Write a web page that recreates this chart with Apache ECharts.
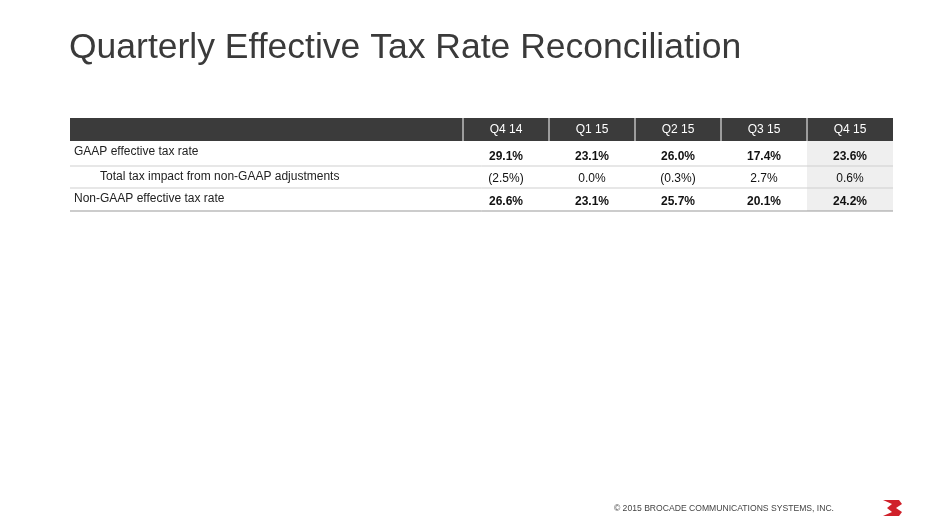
<!DOCTYPE html>
<html><head><meta charset="utf-8">
<script src="https://cdn.jsdelivr.net/npm/echarts@6/dist/echarts.min.js"></script>
<style>html,body{margin:0;padding:0;background:#fff}#c{width:940px;height:528px}</style>
</head><body><div id="c"></div>
<script>
const quarters = ['Q4 14', 'Q1 15', 'Q2 15', 'Q3 15', 'Q4 15'];
const rowLabels = ['GAAP effective tax rate', 'Total tax impact from non-GAAP adjustments', 'Non-GAAP effective tax rate'];
const gaapRate = ['29.1%', '23.1%', '26.0%', '17.4%', '23.6%'];
const adjustments = ['(2.5%)', '0.0%', '(0.3%)', '2.7%', '0.6%'];
const nonGaapRate = ['26.6%', '23.1%', '25.7%', '20.1%', '24.2%'];
const rows = [gaapRate, adjustments, nonGaapRate];
const rowBold = [true, false, true];
const rowIndent = [0, 1, 0];

const font = '"Liberation Sans", Arial, sans-serif';
const left = 70, right = 893, labelW = 393;
const colW = (right - left - labelW) / quarters.length;
const headTop = 118, headH = 23;
const rowTops = [141, 166, 188], rowHs = [25, 22, 23];

const g = [];
g.push({ type: 'text', left: 69, top: 30, style: { text: 'Quarterly Effective Tax Rate Reconciliation', font: '35.5px ' + font, fill: '#3a3a3a' } });
g.push({ type: 'rect', shape: { x: left, y: headTop, width: right - left, height: headH }, style: { fill: '#3b3b3b' } });
// shaded last column
g.push({ type: 'rect', shape: { x: right - colW, y: rowTops[0], width: colW, height: 70 }, style: { fill: '#efefef' } });
quarters.forEach((q, i) => {
  const x = left + labelW + i * colW;
  g.push({ type: 'line', shape: { x1: x, y1: headTop, x2: x, y2: headTop + headH }, style: { stroke: '#ffffff', lineWidth: 1 } });
  g.push({ type: 'text', x: x + colW / 2, y: headTop + headH / 2, style: { text: q, font: '12px ' + font, fill: '#ffffff', align: 'center', verticalAlign: 'middle' } });
});
rows.forEach((vals, r) => {
  const top = rowTops[r], h = rowHs[r];
  g.push({ type: 'text', x: left + 4 + rowIndent[r] * 26, y: top + 5, style: { text: rowLabels[r], font: '12px ' + font, fill: '#222', verticalAlign: 'top' } });
  vals.forEach((v, i) => {
    const x = left + labelW + i * colW;
    g.push({ type: 'text', x: x + colW / 2, y: top + h - 3, style: { text: v, font: (rowBold[r] ? 'bold ' : '') + '12px ' + font, fill: '#111', align: 'center', verticalAlign: 'bottom' } });
  });
  g.push({ type: 'line', shape: { x1: left, y1: top + h, x2: right, y2: top + h }, style: { stroke: r === rows.length - 1 ? '#999' : '#cfcfcf', lineWidth: 1 } });
});
g.push({ type: 'text', x: 834, y: 509, style: { text: '\u00a9 2015 BROCADE COMMUNICATIONS SYSTEMS, INC.', font: '8.6px ' + font, fill: '#444', align: 'right', verticalAlign: 'middle' } });
g.push({ type: 'polygon', shape: { points: [[883,500],[899,500],[902,504],[896,508],[902,512],[899,516],[883,516],[892,512],[887,508],[892,504]] }, style: { fill: '#d0202a' } });

const chart = echarts.init(document.getElementById('c'), null, { renderer: 'canvas' });
chart.setOption({ animation: false, graphic: g });
</script>
</body></html>
